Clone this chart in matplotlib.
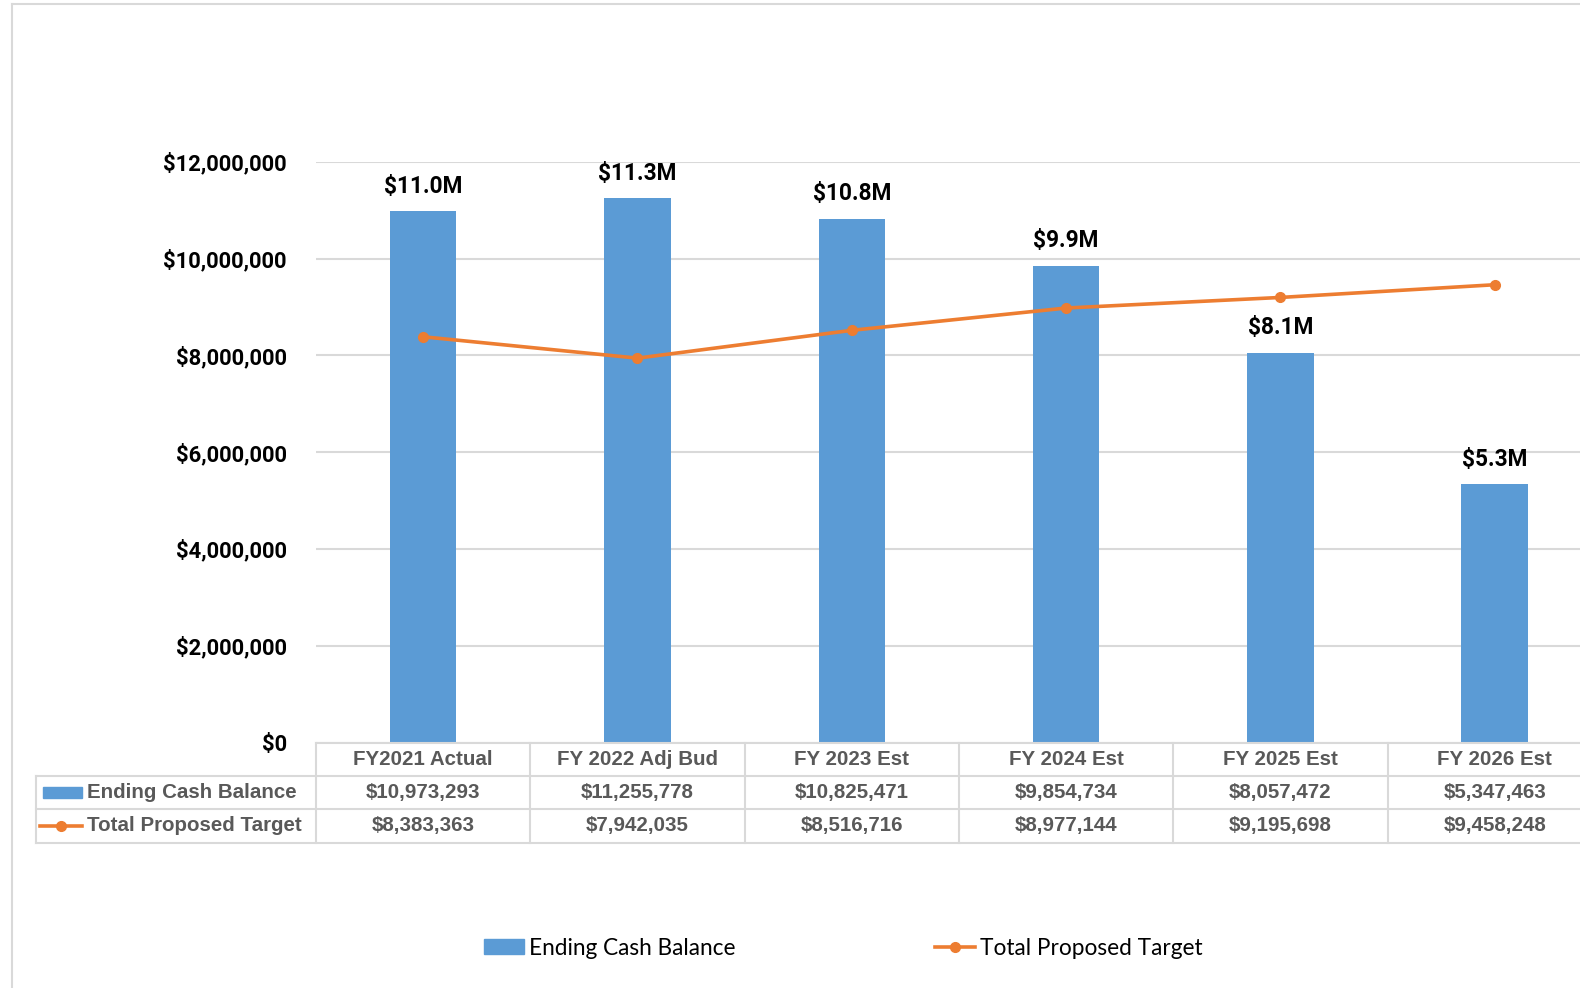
import matplotlib
matplotlib.use("Agg")
import matplotlib.pyplot as plt
from matplotlib.lines import Line2D
from matplotlib.patches import Patch, Rectangle
from matplotlib.transforms import blended_transform_factory

# data
categories = ["FY2021 Actual", "FY 2022 Adj Bud", "FY 2023 Est", "FY 2024 Est", "FY 2025 Est", "FY 2026 Est"]
cash_balance = [10973293, 11255778, 10825471, 9854734, 8057472, 5347463]
proposed_target = [8383363, 7942035, 8516716, 8977144, 9195698, 9458248]
y_ticks = [0, 2000000, 4000000, 6000000, 8000000, 10000000, 12000000]
series_names = ["Ending Cash Balance", "Total Proposed Target"]

BLUE = "#5B9BD5"
ORANGE = "#ED7D31"
GRID = "#D9D9D9"
TABLE_TXT = "#595959"

W, H = 1580, 988
fig = plt.figure(figsize=(W / 100, H / 100), dpi=100)

def fy(py):
    return 1 - py / H

def fx(px):
    return px / W

# outer chart frame (left and top visible)
fig.add_artist(Line2D([fx(12), fx(12)], [fy(4), fy(990)], color=GRID, lw=1.5))
fig.add_artist(Line2D([fx(12), 1.01], [fy(4), fy(4)], color=GRID, lw=1.5))

left_px, step_px = 316.0, 214.3
top_px, zero_px = 161.7, 742.6
ax = fig.add_axes([fx(left_px), fy(zero_px), 6 * step_px / W, (zero_px - top_px) / H])

x = list(range(len(categories)))
ax.bar(x, cash_balance, width=0.31, color=BLUE, zorder=2)
ax.plot(x, proposed_target, color=ORANGE, lw=2.6, marker="o", markersize=7, zorder=3)

for xi, v in zip(x, cash_balance):
    ax.text(xi, v + 270000, f"${v / 1e6:.1f}M", ha="center", va="bottom",
            fontsize=16.3, fontweight="bold", family="Roboto", color="black")

ax.set_xlim(-0.5, len(categories) - 0.5)
ax.set_ylim(0, 12000000)
ax.set_yticks(y_ticks)
ax.set_yticklabels([f"${t:,}" for t in y_ticks], fontsize=15.8, fontweight="bold", family="Roboto")
ax.tick_params(axis="y", length=0, pad=21)
ax.set_xticks([])
ax.yaxis.grid(True, color=GRID, lw=1.5, zorder=0)
ax.set_axisbelow(True)
for s in ax.spines.values():
    s.set_visible(False)

# data table below the plot
tr = blended_transform_factory(ax.transData, fig.transFigure)
row_edges = [742.6, 776.0, 809.3, 842.6]
n = len(categories)

fig.add_artist(Line2D([-0.5, n], [fy(row_edges[0])] * 2, transform=tr, color=GRID, lw=1.5, clip_on=False))
for e in row_edges[1:]:
    fig.add_artist(Line2D([fx(36), 1.02], [fy(e)] * 2, color=GRID, lw=1.5))
for k in range(n + 1):
    fig.add_artist(Line2D([k - 0.5] * 2, [fy(row_edges[0]), fy(row_edges[-1])], transform=tr,
                          color=GRID, lw=1.5, clip_on=False))
fig.add_artist(Line2D([fx(36)] * 2, [fy(row_edges[1]), fy(row_edges[-1])], color=GRID, lw=1.5))

tbl_font = dict(family="Liberation Sans", fontweight="bold", fontsize=14.8, color=TABLE_TXT,
                ha="center", va="center")
rows = [categories, [f"${v:,}" for v in cash_balance], [f"${v:,}" for v in proposed_target]]
for r, vals in enumerate(rows):
    yc = fy((row_edges[r] + row_edges[r + 1]) / 2)
    for xi, txt in zip(x, vals):
        fig.text(xi, yc, txt, transform=tr, **tbl_font)

# row label keys
y1 = (row_edges[1] + row_edges[2]) / 2
y2 = (row_edges[2] + row_edges[3]) / 2
fig.add_artist(Rectangle((fx(43), fy(y1 + 5.5)), fx(39), 11 / H, color=BLUE))
fig.add_artist(Line2D([fx(40), fx(82)], [fy(y2)] * 2, color=ORANGE, lw=2.6))
fig.add_artist(Line2D([fx(61)], [fy(y2)], color=ORANGE, marker="o", markersize=7))
for yc, name in zip([y1, y2], series_names):
    fig.text(fx(87), fy(yc), name, family="Liberation Sans", fontweight="bold", fontsize=14.8,
             color=TABLE_TXT, ha="left", va="center")

# legend
handles = [Patch(color=BLUE),
           Line2D([], [], color=ORANGE, lw=2.6, marker="o", markersize=7)]
fig.legend(handles, series_names, loc="center", bbox_to_anchor=(fx(843), fy(948)), ncol=2,
           frameon=False, prop=dict(family="Lato", size=16.3), columnspacing=8.8,
           handlelength=1.8, handletextpad=0.2, handleheight=0.6)

fig.savefig("out.png", dpi=100)
